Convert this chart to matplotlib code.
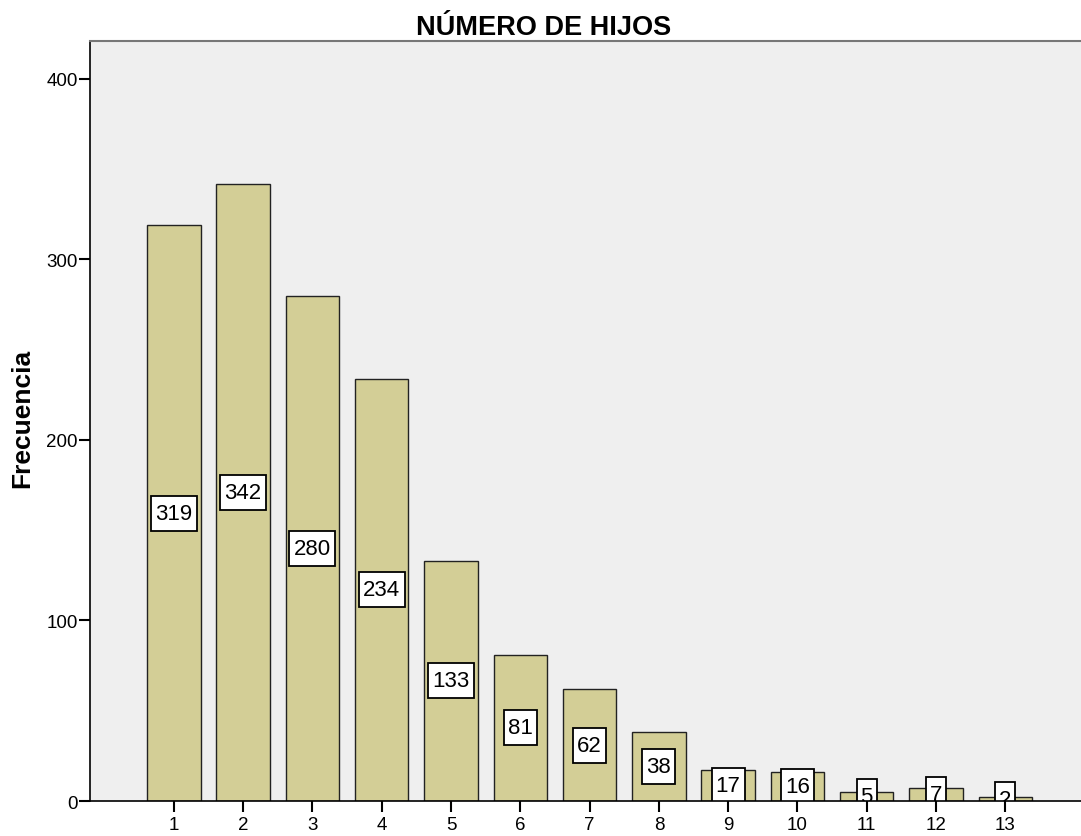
import matplotlib.pyplot as plt
import matplotlib.transforms as mtransforms
from matplotlib.patches import Rectangle

plt.rcParams['font.family'] = ['Liberation Sans', 'DejaVu Sans']

hijos = [1, 2, 3, 4, 5, 6, 7, 8, 9, 10, 11, 12, 13]
frecuencia = [319, 342, 280, 234, 133, 81, 62, 38, 17, 16, 5, 7, 2]

fig = plt.figure(figsize=(10.81, 8.37), dpi=100)
ax = fig.add_axes([0.0833, 0.0418, 0.93, 0.908])
ax.set_facecolor('#EFEFEF')

ax.bar(hijos, frecuencia, width=0.77, color='#D3CE96', edgecolor='#222222', linewidth=1.0)

# etiquetas: caja blanca de tamaño fijo en pulgadas, centrada a media altura de la barra
for x, v in zip(hijos, frecuencia):
    lbl = str(v)
    w = (7 + 13 * len(lbl)) / 100
    h = 0.35
    trans = fig.dpi_scale_trans + mtransforms.ScaledTranslation(x, v / 2, ax.transData)
    box = Rectangle((-w / 2, -h / 2), w, h, transform=trans, facecolor='white',
                    edgecolor='black', linewidth=1.3, zorder=3)
    ax.add_patch(box)
    box.set_clip_path(ax.patch)
    t = ax.text(x, v / 2, lbl, ha='center', va='center', fontsize=16, zorder=4)
    t.set_clip_on(True)

ax.set_xlim(-0.21, 14.3)
ax.set_ylim(0, 421)
ax.set_xticks(hijos)
ax.set_yticks([0, 100, 200, 300, 400])
ax.tick_params(axis='both', labelsize=13.5, length=8, width=1.5, direction='out')
ax.tick_params(axis='y', pad=1)
ax.tick_params(axis='x', pad=3)

ax.spines['top'].set_color('#777777')
ax.spines['top'].set_linewidth(1.5)
ax.spines['left'].set_linewidth(1.2)
ax.spines['bottom'].set_linewidth(1.2)
ax.spines['bottom'].set_zorder(5)
ax.spines['right'].set_visible(False)

fig.text(0.021, 0.50, 'Frecuencia', rotation=90, ha='center', va='center', fontsize=19, fontweight='bold')
fig.text(0.503, 0.966, 'NÚMERO DE HIJOS', ha='center', va='center', fontsize=19.5, fontweight='bold')

fig.savefig('out.png', dpi=100)
